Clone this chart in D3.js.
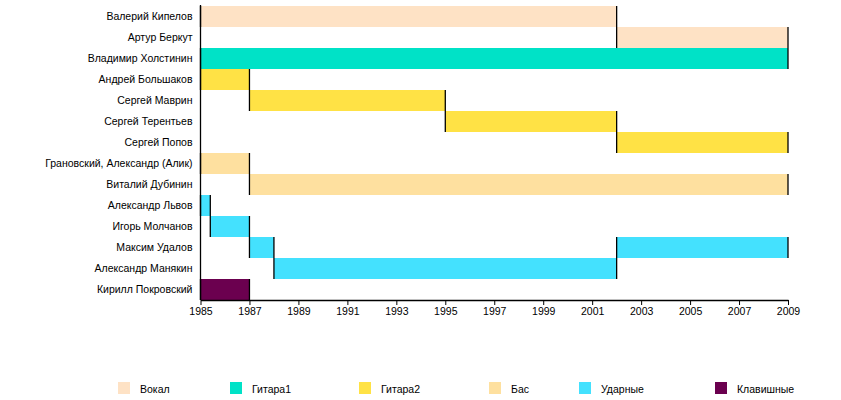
<html>
<head>
<meta charset="utf-8">
<script src="https://d3js.org/d3.v7.min.js"></script>
<style>
body {
	margin:0;
	background:#fff;
}
svg text {
	font-family: "Liberation Sans", Arial, sans-serif;
	fill:#000;
}
.axis path, .axis line {
	stroke:#000;
}
</style>
</head>
<body>
<div id="chart"></div>
<script>

var members = [
	"Валерий Кипелов",
	"Артур Беркут",
	"Владимир Холстинин",
	"Андрей Большаков",
	"Сергей Маврин",
	"Сергей Терентьев",
	"Сергей Попов",
	"Грановский, Александр (Алик)",
	"Виталий Дубинин",
	"Александр Львов",
	"Игорь Молчанов",
	"Максим Удалов",
	"Александр Манякин",
	"Кирилл Покровский"
];

var roles = ["Вокал", "Гитара1", "Гитара2", "Бас", "Ударные", "Клавишные"];
var roleColors = ["#fee2c5", "#00e2c7", "#ffe245", "#fee09f", "#44e1fe", "#6b004f"];

// member, role, from, to
var periods = [
	["Валерий Кипелов", "Вокал", 1985, 2002],
	["Артур Беркут", "Вокал", 2002, 2009],
	["Владимир Холстинин", "Гитара1", 1985, 2009],
	["Андрей Большаков", "Гитара2", 1985, 1987],
	["Сергей Маврин", "Гитара2", 1987, 1995],
	["Сергей Терентьев", "Гитара2", 1995, 2002],
	["Сергей Попов", "Гитара2", 2002, 2009],
	["Грановский, Александр (Алик)", "Бас", 1985, 1987],
	["Виталий Дубинин", "Бас", 1987, 2009],
	["Александр Львов", "Ударные", 1985, 1985.4],
	["Игорь Молчанов", "Ударные", 1985.4, 1987],
	["Максим Удалов", "Ударные", 1987, 1988],
	["Александр Манякин", "Ударные", 1988, 2002],
	["Максим Удалов", "Ударные", 2002, 2009],
	["Кирилл Покровский", "Клавишные", 1985, 1987]
];

var yearTicks = [1985, 1987, 1989, 1991, 1993, 1995, 1997, 1999, 2001, 2003, 2005, 2007, 2009];

var W = 841, H = 400;

var x = d3.scaleLinear().domain([1985, 2009]).range([200.5, 788]);
var y = d3.scaleBand().domain(members).range([6, 300]).padding(0);
var color = d3.scaleOrdinal().domain(roles).range(roleColors);

var svg = d3.select("#chart").append("svg")
	.attr("width", W)
	.attr("height", H);

// bars
svg.append("g").selectAll("rect")
	.data(periods)
	.enter().append("rect")
	.attr("x", function(d) { return x(d[2]); })
	.attr("y", function(d) { return y(d[0]); })
	.attr("width", function(d) { return x(d[3]) - x(d[2]); })
	.attr("height", y.bandwidth())
	.attr("fill", function(d) { return color(d[1]); });

// start / end marks of each period
var marks = [];
periods.forEach(function(d) {
	marks.push([d[0], d[2]]);
	marks.push([d[0], d[3]]);
});
svg.append("g").selectAll("line")
	.data(marks)
	.enter().append("line")
	.attr("x1", function(d) { return x(d[1]); })
	.attr("x2", function(d) { return x(d[1]); })
	.attr("y1", function(d) { return y(d[0]); })
	.attr("y2", function(d) { return y(d[0]) + y.bandwidth(); })
	.attr("stroke", "#000")
	.attr("stroke-width", 1.3);

// y axis (names)
var yAxis = svg.append("g")
	.attr("class", "axis")
	.attr("transform", "translate(" + x(1985) + ",0)")
	.call(d3.axisLeft(y).tickSize(0).tickPadding(8));
yAxis.select(".domain").attr("d", "M0,5V300").attr("stroke-width", 1.3);
yAxis.selectAll("text")
	.attr("font-size", 10.5)
	.attr("font-family", "Liberation Sans, Arial, sans-serif");

// x axis (years)
var xAxis = svg.append("g")
	.attr("class", "axis")
	.attr("transform", "translate(0,300)")
	.call(d3.axisBottom(x).tickValues(yearTicks).tickFormat(d3.format("d")).tickSize(5).tickSizeOuter(0).tickPadding(3));
xAxis.select(".domain").attr("stroke-width", 1.3);
xAxis.selectAll("text")
	.attr("font-size", 10.5)
	.attr("font-family", "Liberation Sans, Arial, sans-serif");

// legend
var legendX = [118, 230, 359, 489, 579, 715];
var legend = svg.append("g").selectAll("g")
	.data(roles)
	.enter().append("g")
	.attr("transform", function(d, i) { return "translate(" + legendX[i] + ",382)"; });
legend.append("rect")
	.attr("width", 12)
	.attr("height", 12)
	.attr("fill", function(d) { return color(d); });
legend.append("text")
	.attr("x", 22)
	.attr("y", 10.5)
	.attr("font-size", 10.5)
	.text(function(d) { return d; });

</script>
</body>
</html>
